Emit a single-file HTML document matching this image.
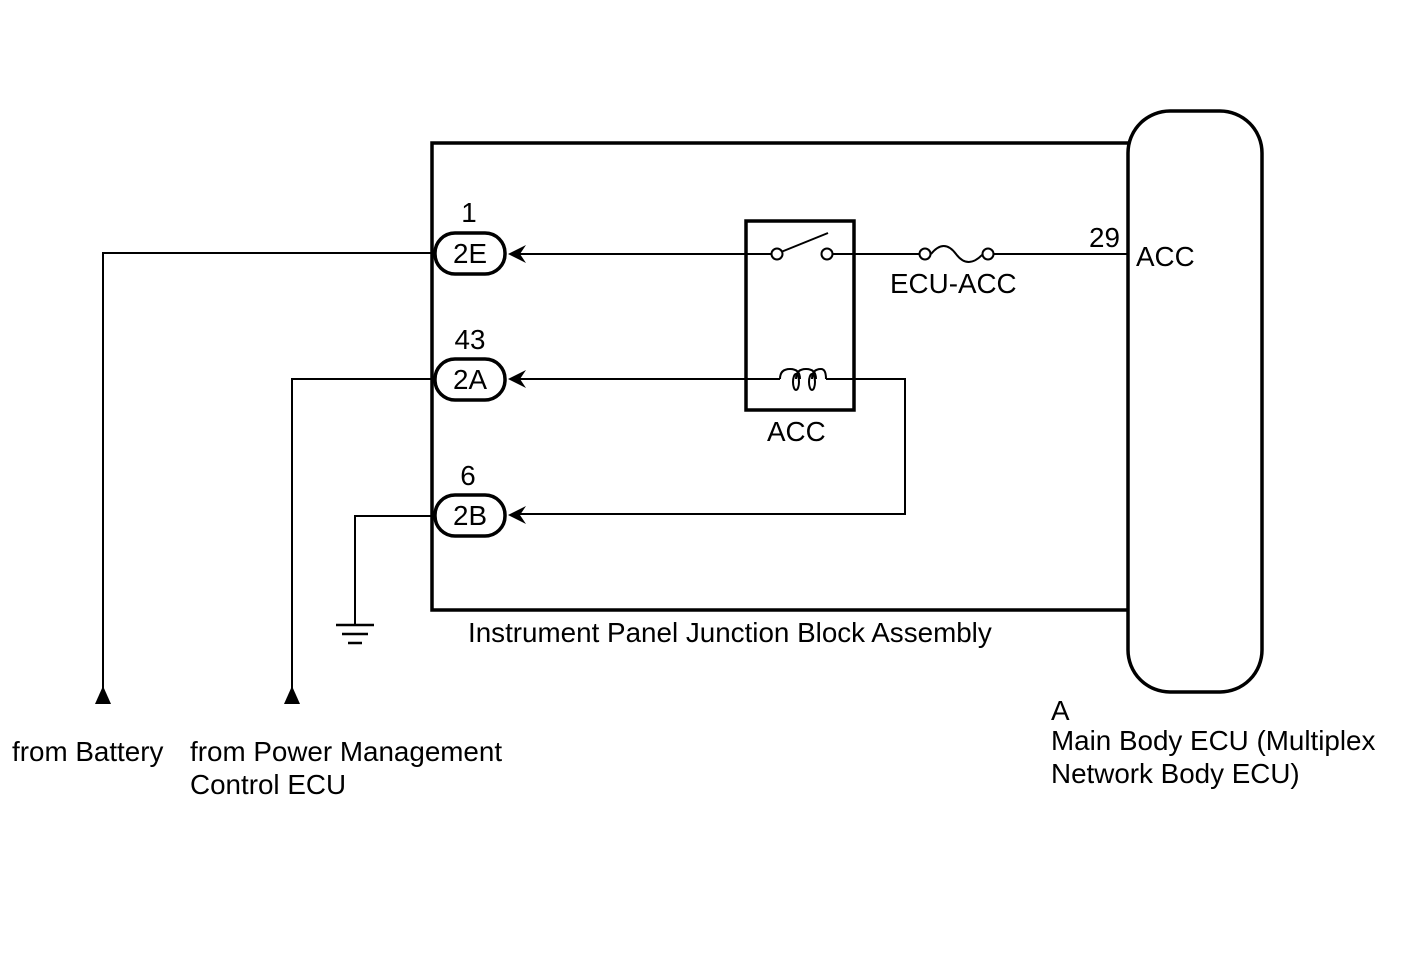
<!DOCTYPE html>
<html><head><style>body{margin:0;background:#fff}svg{display:block}text{font-family:"Liberation Sans",Arial,sans-serif;fill:#000}</style></head><body>
<svg width="1424" height="959" viewBox="0 0 1424 959" xmlns="http://www.w3.org/2000/svg">
<g fill="none" stroke="#000">
<path d="M1128 143H432V610H1128" stroke-width="3.5"/>
<rect x="1128" y="111" width="134" height="581" rx="42" stroke-width="3.5"/>
<g stroke-width="2">
<path d="M103 700V253H435"/>
<path d="M292 700V379H435"/>
<path d="M355 625V516H435"/>
<path d="M515 254H772M832 254H920M993 254H1128"/>
<path d="M515 379H780M826 379H905V514H515"/>
<path d="M781 252L828 233"/>
<circle cx="777" cy="254" r="5.5" fill="#fff"/>
<circle cx="827" cy="254" r="5.5" fill="#fff"/>
<circle cx="925" cy="254" r="5.5" fill="#fff"/>
<circle cx="988" cy="254" r="5.5" fill="#fff"/>
<path d="M931 254Q944 238 956 254T983 254"/>
<path d="M780 379Q780 369 790 369Q800 369 800 379M796 379Q796 369 806 369Q816 369 816 379M812 379Q812 369 821 369Q826 369 826 379"/>
<ellipse cx="796" cy="382" rx="3" ry="8"/><ellipse cx="812" cy="382" rx="3" ry="8"/>
<path d="M336 625H374M342 634H368M348 643H362" stroke-width="2.5"/>
</g>
<rect x="746" y="221" width="108" height="189" stroke-width="3.5"/>
<g stroke-width="3.5" fill="#fff">
<rect x="435" y="233" width="70" height="41" rx="20"/>
<rect x="435" y="359" width="70" height="41" rx="20"/>
<rect x="435" y="495" width="70" height="41" rx="20"/>
</g>
</g>
<g fill="#000">
<path d="M508 254L526 245L520 254L526 263Z"/>
<path d="M508 379L526 370L520 379L526 388Z"/>
<path d="M508 515L526 506L520 515L526 524Z"/>
<path d="M103 686L95 704H111Z"/>
<path d="M292 686L284 704H300Z"/>
</g>
<g font-size="27.8">
<text x="470" y="263" text-anchor="middle">2E</text>
<text x="470" y="389" text-anchor="middle">2A</text>
<text x="470" y="525" text-anchor="middle">2B</text>
<text x="469" y="222" text-anchor="middle">1</text>
<text x="470" y="349" text-anchor="middle">43</text>
<text x="468" y="485" text-anchor="middle">6</text>
<text x="1089" y="247">29</text>
<text x="1136" y="266">ACC</text>
<text x="890" y="293">ECU-ACC</text>
<text x="767" y="441">ACC</text>
<text x="468" y="642">Instrument Panel Junction Block Assembly</text>
<text x="12" y="761">from Battery</text>
<text x="190" y="761">from Power Management</text>
<text x="190" y="794">Control ECU</text>
<text x="1051" y="720">A</text>
<text x="1051" y="750">Main Body ECU (Multiplex</text>
<text x="1051" y="783">Network Body ECU)</text>
</g>
</svg>
</body></html>
